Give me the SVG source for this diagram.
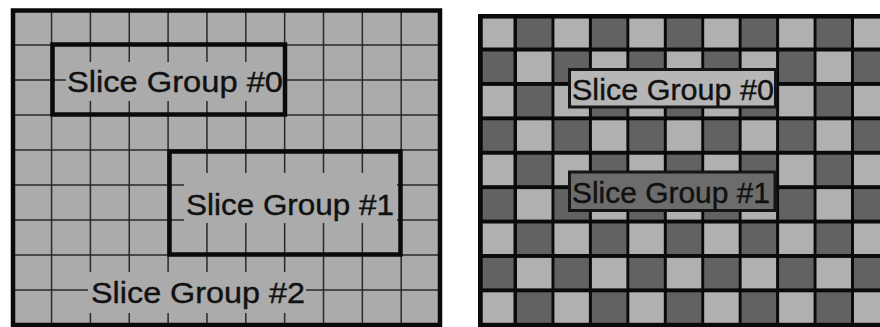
<svg xmlns="http://www.w3.org/2000/svg" xmlns:xlink="http://www.w3.org/1999/xlink" width="880" height="327" viewBox="0 0 880 327">
<style>
.bg{fill:#ffffff}
.panelfill{fill:#ababab}
.grid{stroke:#2a2a2a;stroke-width:1.5;fill:none}
.knock{fill:#ababab}
.sg{fill:none;stroke:#0a0a0a;stroke-width:4.5}
.frame{fill:none;stroke:#0a0a0a;stroke-width:4.5}
.lbl{font-family:"Liberation Sans",Arial,Helvetica,sans-serif;font-size:30px;fill:#111;stroke:#111;stroke-width:0.4}
.L{fill:#b0b0b0}
.D{fill:#626262}
.tagL{fill:#b6b6b6;stroke:#151515;stroke-width:3}
.tagD{fill:#6c6c6c;stroke:#151515;stroke-width:3}
</style>
<defs>
<g id="rowA">
<rect class="L" x="479" y="0" width="34.5" height="30.5"/>
<rect class="D" x="517" y="0" width="34.5" height="30.5"/>
<rect class="L" x="554.4" y="0" width="34.5" height="30.5"/>
<rect class="D" x="591.9" y="0" width="34.5" height="30.5"/>
<rect class="L" x="629.3" y="0" width="34.5" height="30.5"/>
<rect class="D" x="666.8" y="0" width="34.5" height="30.5"/>
<rect class="L" x="704.2" y="0" width="34.5" height="30.5"/>
<rect class="D" x="741.6" y="0" width="34.5" height="30.5"/>
<rect class="L" x="779.1" y="0" width="34.5" height="30.5"/>
<rect class="D" x="816.5" y="0" width="34.5" height="30.5"/>
<rect class="L" x="854" y="0" width="34.5" height="30.5"/>
</g>
<g id="rowB">
<rect class="D" x="479" y="0" width="34.5" height="30.5"/>
<rect class="L" x="517" y="0" width="34.5" height="30.5"/>
<rect class="D" x="554.4" y="0" width="34.5" height="30.5"/>
<rect class="L" x="591.9" y="0" width="34.5" height="30.5"/>
<rect class="D" x="629.3" y="0" width="34.5" height="30.5"/>
<rect class="L" x="666.8" y="0" width="34.5" height="30.5"/>
<rect class="D" x="704.2" y="0" width="34.5" height="30.5"/>
<rect class="L" x="741.6" y="0" width="34.5" height="30.5"/>
<rect class="D" x="779.1" y="0" width="34.5" height="30.5"/>
<rect class="L" x="816.5" y="0" width="34.5" height="30.5"/>
<rect class="D" x="854" y="0" width="34.5" height="30.5"/>
</g>
</defs>
<rect class="bg" x="0" y="0" width="880" height="327"/>

<g id="left-panel">
<rect class="panelfill" x="13" y="10.5" width="427" height="314.5"/>
<path class="grid" d="M51.55 10.5V325M90.4 10.5V325M129.25 10.5V325M168.1 10.5V325M206.95 10.5V325M245.8 10.5V325M284.65 10.5V325M323.5 10.5V325M362.35 10.5V325M401.2 10.5V325M13 45H440M13 80H440M13 115H440M13 150H440M13 185H440M13 220H440M13 255H440M13 290H440"/>
<rect class="knock" x="66" y="62" width="218" height="39"/>
<rect class="knock" x="184" y="173" width="213" height="50"/>
<rect class="knock" x="88" y="272" width="218" height="41"/>
<rect class="frame" x="13" y="10.5" width="427" height="314.5"/>
</g>

<g id="left-slice-group-0">
<rect class="sg" x="52.5" y="44.5" width="232.5" height="70"/>
<text class="lbl" x="67" y="92" textLength="216" lengthAdjust="spacingAndGlyphs">Slice Group #0</text>
</g>

<g id="left-slice-group-1">
<rect class="sg" x="169.5" y="151.5" width="231" height="103"/>
<text class="lbl" x="186" y="215" textLength="208" lengthAdjust="spacingAndGlyphs">Slice Group #1</text>
</g>

<g id="left-slice-group-2">
<text class="lbl" x="91" y="303" textLength="214" lengthAdjust="spacingAndGlyphs">Slice Group #2</text>
</g>

<g id="right-panel">
<rect fill="#0a0a0a" x="478" y="14" width="402" height="313"/>
<use xlink:href="#rowA" href="#rowA" y="17"/>
<use xlink:href="#rowB" href="#rowB" y="51.5"/>
<use xlink:href="#rowA" href="#rowA" y="85.9"/>
<use xlink:href="#rowB" href="#rowB" y="120.3"/>
<use xlink:href="#rowA" href="#rowA" y="154.7"/>
<use xlink:href="#rowB" href="#rowB" y="189.1"/>
<use xlink:href="#rowA" href="#rowA" y="223.5"/>
<use xlink:href="#rowB" href="#rowB" y="257.9"/>
<use xlink:href="#rowA" href="#rowA" y="292.3"/>
<rect class="frame" x="480.5" y="16.3" width="410" height="309"/>
</g>

<g id="right-slice-group-0">
<rect class="tagL" x="569.5" y="69.5" width="206" height="37.5"/>
<text class="lbl" x="572" y="99.5" textLength="202" lengthAdjust="spacingAndGlyphs">Slice Group #0</text>
</g>

<g id="right-slice-group-1">
<rect class="tagD" x="569.5" y="172" width="205.5" height="38.5"/>
<text class="lbl" x="572" y="203" textLength="198" lengthAdjust="spacingAndGlyphs">Slice Group #1</text>
</g>

<g id="connectors"/>
</svg>
